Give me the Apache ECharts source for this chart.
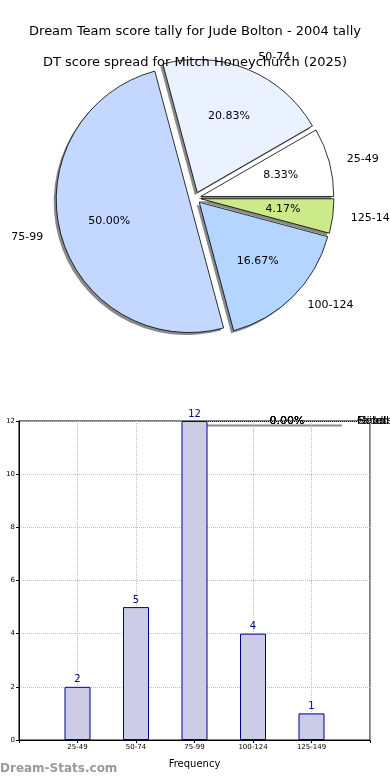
<!DOCTYPE html>
<html><head><meta charset="utf-8">
<script src="https://cdn.jsdelivr.net/npm/echarts@6/dist/echarts.min.js"></script>
<style>html,body{margin:0;padding:0;background:#fff}#c{width:390px;height:780px}</style>
</head><body><div id="c"></div>
<script>
const titleText = 'Dream Team score tally for Jude Bolton - 2004 tally';
const subTitleText = 'DT score spread for Mitch Honeychurch (2025)';
const categories = ['25-49', '50-74', '75-99', '100-124', '125-149'];
const counts = [2, 5, 12, 4, 1];
const pieColors = ['#ffffff', '#eaf1ff', '#c4d8ff', '#b3d5ff', '#cdea8a'];
const yTicks = [0, 2, 4, 6, 8, 10, 12];
const artifactPct = ['0.00%', '0.00%', '0.00%'];
const artifactLabels = ['Failed', 'Middle', 'Good'];

const FONT = 'DejaVu Sans';
const chart = echarts.init(document.getElementById('c'), null, {renderer: 'canvas'});
const R = 133;
const CX = 195, CY = 198;
const pieData = categories.map((c, i) => ({name: c, value: counts[i], selected: true,
  itemStyle: {color: pieColors[i]}}));
const plainData = categories.map((c, i) => ({name: c, value: counts[i], selected: true}));

const graphics = [
  {type: 'text', left: 0, top: 763, style: {text: 'Dream-Stats.com', fill: '#9a9a9a', font: 'bold 12px "' + FONT + '"'}},
  {type: 'line', shape: {x1: 200, y1: 425.5, x2: 342, y2: 425.5}, style: {stroke: '#8c8c8c', lineWidth: 2}},
  {type: 'line', shape: {x1: 200, y1: 421.5, x2: 357, y2: 421.5}, style: {stroke: '#000', lineWidth: 1}}
];
artifactPct.forEach(t => graphics.push({type: 'text', x: 287, y: 421, style: {text: t, fill: '#000', font: '11px "' + FONT + '"', textAlign: 'center', textVerticalAlign: 'middle'}}));
artifactLabels.forEach(t => graphics.push({type: 'text', x: 357, y: 421, style: {text: t, fill: '#000', font: '11px "' + FONT + '"', textAlign: 'left', textVerticalAlign: 'middle'}}));

const pieCommon = {type: 'pie', startAngle: 0, clockwise: false, selectedMode: 'multiple', selectedOffset: 6,
  avoidLabelOverlap: false, silent: true, emphasis: {disabled: true}};

chart.setOption({
  animation: false,
  textStyle: {fontFamily: FONT},
  title: [
    {text: titleText, left: 'center', top: 20, textStyle: {fontSize: 13, fontWeight: 'normal', color: '#000', fontFamily: FONT}},
    {text: subTitleText, left: 'center', top: 51, textStyle: {fontSize: 13, fontWeight: 'normal', color: '#000', fontFamily: FONT}}
  ],
  grid: {left: 19, right: 20, top: 421, bottom: 40, show: true, borderColor: '#000', borderWidth: 1,
    containLabel: false, outerBoundsMode: 'none'},
  xAxis: {
    type: 'value', min: 0, max: categories.length + 1, interval: 1,
    name: 'Frequency', nameLocation: 'middle', nameGap: 19,
    nameTextStyle: {fontSize: 10, color: '#000', fontFamily: FONT},
    axisLine: {show: true, lineStyle: {color: '#000'}},
    axisTick: {show: true, length: 3, lineStyle: {color: '#000'}},
    axisLabel: {fontSize: 7, color: '#000', margin: 4, fontFamily: FONT,
      formatter: v => categories[v - 1] || ''},
    splitLine: {show: true, lineStyle: {color: '#bdbdbd', type: 'dotted', width: 1}}
  },
  yAxis: {
    type: 'value', min: yTicks[0], max: yTicks[yTicks.length - 1], interval: 2,
    name: 'Score Intervals', nameLocation: 'middle', nameGap: 21,
    nameTextStyle: {fontSize: 8, color: '#000', fontFamily: FONT},
    axisLine: {show: true, lineStyle: {color: '#000'}},
    axisTick: {show: true, length: 3, lineStyle: {color: '#000'}},
    axisLabel: {fontSize: 7, color: '#000', margin: 4, fontFamily: FONT},
    splitLine: {show: true, lineStyle: {color: '#bdbdbd', type: 'dotted', width: 1}}
  },
  series: [
    Object.assign({}, pieCommon, {
      center: [CX - 2.5, CY + 2.5], radius: [0, R], data: plainData,
      itemStyle: {color: '#8a8a8a', borderWidth: 0},
      label: {show: false}, labelLine: {show: false}
    }),
    Object.assign({}, pieCommon, {
      center: [CX, CY], radius: [0, R], data: pieData,
      itemStyle: {borderColor: '#000', borderWidth: 0.8},
      label: {show: true, position: 'outside', fontSize: 11, color: '#000', fontFamily: FONT, formatter: '{b}'},
      labelLine: {show: false, length: 13, length2: 0}
    }),
    Object.assign({}, pieCommon, {
      center: [CX, CY], radius: [0, R * 1.2], data: plainData,
      itemStyle: {color: 'rgba(0,0,0,0)', borderWidth: 0},
      label: {show: true, position: 'inside', fontSize: 11, color: '#000', fontFamily: FONT,
        formatter: p => p.percent.toFixed(2) + '%'},
      labelLine: {show: false}
    }),
    {
      type: 'bar', barWidth: 26,
      data: counts.map((v, i) => [i + 1, v]),
      itemStyle: {color: '#ccccE6', borderColor: '#00008b', borderWidth: 1},
      label: {show: true, position: 'top', distance: 2, color: '#00008b', fontSize: 10, fontFamily: FONT},
      emphasis: {disabled: true}
    }
  ],
  graphic: graphics
});
</script></body></html>
